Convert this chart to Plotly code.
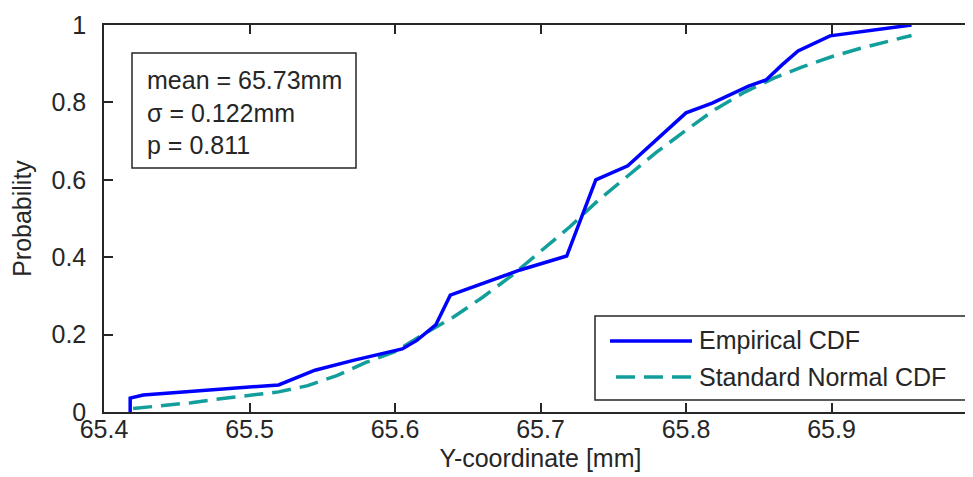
import plotly.graph_objects as go

# ---- data ----
emp_x = [65.418, 65.418, 65.427, 65.455, 65.496, 65.520, 65.545, 65.572, 65.605,
         65.615, 65.628, 65.638, 65.686, 65.718, 65.738, 65.760, 65.800, 65.818,
         65.843, 65.855, 65.866, 65.877, 65.899, 65.923, 65.955]
emp_y = [0.000, 0.036, 0.044, 0.052, 0.062, 0.070, 0.108, 0.134, 0.163,
         0.185, 0.225, 0.302, 0.367, 0.403, 0.600, 0.636, 0.773, 0.798,
         0.842, 0.858, 0.897, 0.933, 0.972, 0.984, 1.000]

norm_x = [65.42, 65.44, 65.46, 65.48, 65.50, 65.52, 65.54, 65.56, 65.58, 65.60,
          65.62, 65.64, 65.66, 65.68, 65.70, 65.72, 65.74, 65.76, 65.78, 65.80,
          65.82, 65.84, 65.86, 65.88, 65.90, 65.92, 65.94, 65.955]
norm_y = [0.009, 0.016, 0.024, 0.034, 0.043, 0.052, 0.068, 0.094, 0.128, 0.156,
          0.202, 0.245, 0.296, 0.352, 0.415, 0.478, 0.548, 0.610, 0.672, 0.728,
          0.782, 0.826, 0.862, 0.892, 0.918, 0.940, 0.958, 0.973]

x_ticks = [65.4, 65.5, 65.6, 65.7, 65.8, 65.9, 66.0]
x_tick_labels = ["65.4", "65.5", "65.6", "65.7", "65.8", "65.9", "66"]
y_ticks = [0, 0.2, 0.4, 0.6, 0.8, 1.0]
y_tick_labels = ["0", "0.2", "0.4", "0.6", "0.8", "1"]

stats_lines = ["mean = 65.73mm", "\u03c3 = 0.122mm", "p = 0.811"]
series_names = ["Empirical CDF", "Standard Normal CDF"]

BLUE = "#0000ff"
TEAL = "rgb(18,158,155)"
INK = "#262626"
FONT = "Liberation Sans, Arial, sans-serif"
FS = 25

fig = go.Figure()
fig.add_trace(go.Scatter(x=norm_x, y=norm_y, mode="lines", name=series_names[1],
                         line=dict(color=TEAL, width=3.5, dash="19px,9px"),
                         showlegend=False))
fig.add_trace(go.Scatter(x=emp_x, y=emp_y, mode="lines", name=series_names[0],
                         line=dict(color=BLUE, width=3.5),
                         showlegend=False))

axis_common = dict(showgrid=False, zeroline=False, showline=True, linecolor=INK,
                   linewidth=1.5, mirror="allticks", ticks="inside", ticklen=9,
                   tickwidth=1.5, tickcolor=INK,
                   tickfont=dict(family=FONT, size=FS, color=INK))

fig.update_xaxes(range=[65.4, 66.0], tickvals=x_ticks, ticktext=x_tick_labels,
                 title=dict(text="Y-coordinate [mm]", standoff=8,
                            font=dict(family=FONT, size=FS, color=INK)),
                 ticklabelstandoff=-6, **axis_common)
fig.update_yaxes(range=[0, 1.0], tickvals=y_ticks, ticktext=y_tick_labels,
                 title=dict(text="Probability", standoff=18,
                            font=dict(family=FONT, size=FS, color=INK)),
                 ticklabelstandoff=11, **axis_common)

def px_x(p):
    return (p - 96) / 873.0

def px_y(p):
    return (404 - p) / 387.0

shapes = []
annotations = []

# statistics box
shapes.append(dict(type="rect", xref="paper", yref="paper",
                   x0=px_x(124), x1=px_x(348), y0=px_y(160), y1=px_y(45),
                   line=dict(color=INK, width=1.5), fillcolor="white", layer="above"))
for txt, yy in zip(stats_lines, [72, 105, 137]):
    annotations.append(dict(text=txt, xref="paper", yref="paper", x=px_x(137), y=px_y(yy),
                            xanchor="left", yanchor="middle", showarrow=False,
                            font=dict(family=FONT, size=FS, color=INK)))

# legend box
shapes.append(dict(type="rect", xref="paper", yref="paper",
                   x0=px_x(587), x1=px_x(958), y0=px_y(392), y1=px_y(308),
                   line=dict(color=INK, width=1.5), fillcolor="white", layer="above"))
shapes.append(dict(type="line", xref="paper", yref="paper",
                   x0=px_x(602), x1=px_x(684), y0=px_y(333), y1=px_y(333),
                   line=dict(color=BLUE, width=3.5), layer="above"))
shapes.append(dict(type="line", xref="paper", yref="paper",
                   x0=px_x(608), x1=px_x(686), y0=px_y(369), y1=px_y(369),
                   line=dict(color=TEAL, width=3.5, dash="19px,9px"), layer="above"))
for txt, yy in zip(series_names, [332, 369]):
    annotations.append(dict(text=txt, xref="paper", yref="paper", x=px_x(689), y=px_y(yy),
                            xanchor="left", yanchor="middle", showarrow=False,
                            font=dict(family=FONT, size=FS, color=INK)))

fig.update_layout(width=973, height=477,
                  margin=dict(l=96, r=4, t=17, b=73, autoexpand=False),
                  paper_bgcolor="white", plot_bgcolor="white",
                  shapes=shapes, annotations=annotations, showlegend=False)

fig.write_html("out.html")
